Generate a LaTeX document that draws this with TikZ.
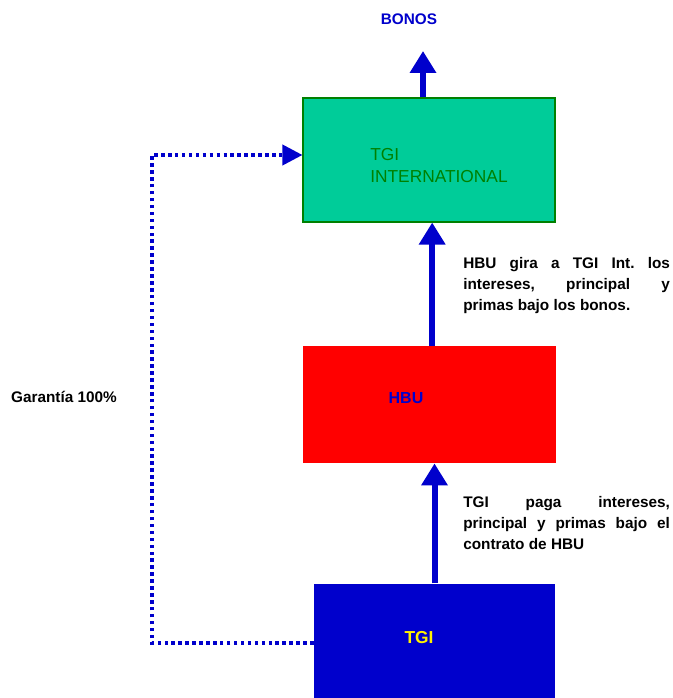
\documentclass[tikz,border=0pt]{standalone}
\usepackage{fontspec}
\setmainfont{Liberation Sans}
\usetikzlibrary{arrows.meta,positioning}
\definecolor{tgiblue}{RGB}{0,0,204}
\definecolor{intgreen}{RGB}{0,204,153}
\definecolor{txtgreen}{RGB}{0,128,0}

\begin{document}
\begin{tikzpicture}[x=0.75pt, y=-0.75pt,
  box/.style={rectangle, inner sep=0pt},
  lbl/.style={inner sep=0pt, font=\fontsize{12}{14}\selectfont\bfseries},
  flow/.style={draw=tgiblue, line width=4.5pt, -{Triangle[width=19pt,length=16.5pt]}},
  guar/.style={draw=tgiblue, line width=2.8pt, dash pattern=on 2.6pt off 2.6pt, -{Triangle[width=15pt,length=15pt]}},
  note/.style={font=\fontsize{11.5}{15.75}\selectfont\bfseries\frenchspacing, text width=155pt, align=justify, inner sep=0pt, anchor=north west}]
  \useasboundingbox (0,0) rectangle (673,698);
  \node[box, fill=intgreen, draw=txtgreen, line width=0.8pt, minimum width=189pt, minimum height=93pt] (intl) at (429,160) {};
  \node[box, fill=red, minimum width=190pt, minimum height=88pt] (hbu) at (429.5,404.5) {};
  \node[box, fill=tgiblue, minimum width=181pt, minimum height=89pt] (tgi) at (434.5,643) {};
  \node[lbl, anchor=west, align=left, text=txtgreen, font=\fontsize{13}{16.5}\selectfont] (intltxt) at (370,166) {TGI\\INTERNATIONAL};
  \node[lbl, text=tgiblue] (hbutxt) at (406,398) {HBU};
  \node[lbl, text=yellow, font=\fontsize{13}{15}\selectfont\bfseries] (tgitxt) at (419,638) {TGI};
  \node[lbl, text=tgiblue, font=\fontsize{11.5}{13}\selectfont\bfseries] (bonos) at (409,19) {BONOS};
  \node[lbl, font=\fontsize{11.5}{14}\selectfont\bfseries] (garantia) at (64,397) {Garantía 100\%};
  \node[note] (notehbu) at (463,257) {HBU gira a TGI Int. los\linebreak intereses, principal y\linebreak primas bajo los bonos.};
  \node[note] (notetgi) at (463,496) {TGI paga intereses,\linebreak principal y primas bajo el\linebreak contrato de HBU};
  \coordinate (bonostip) at (423,51);
  \coordinate (gcorner) at (152,155);
  \draw[flow] (bonostip |- intl.north) -- (bonostip);
  \draw[flow] ([xshift=2pt]hbu.north) -- ([xshift=2pt]hbu.north |- intl.south);
  \draw[flow] (tgi.north) -- (tgi.north |- hbu.south);
  \draw[guar] (tgi.west) -| (gcorner) -- (gcorner -| intl.west);
\end{tikzpicture}
\end{document}
